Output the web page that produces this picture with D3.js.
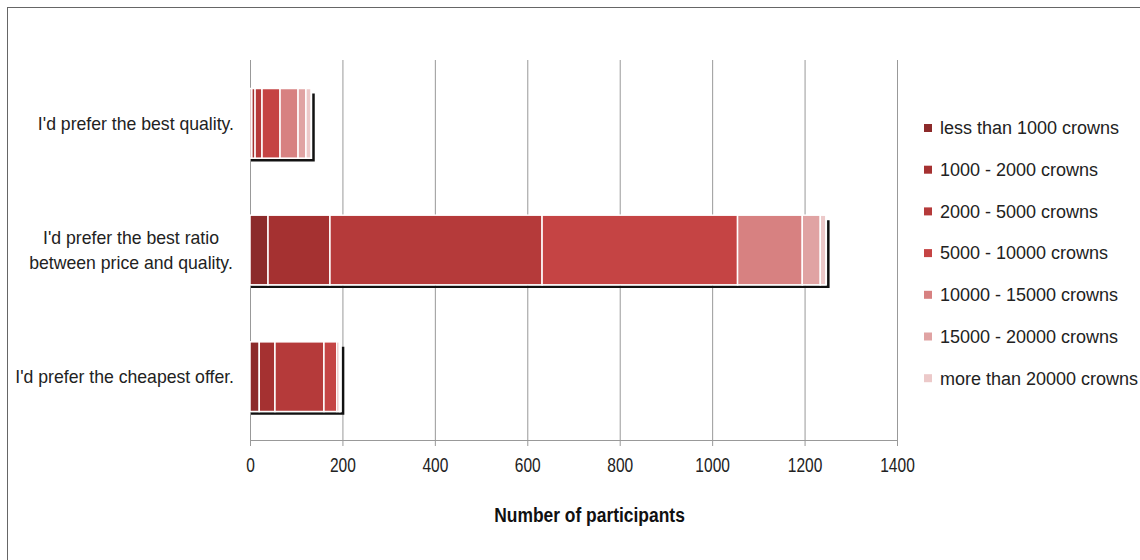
<!DOCTYPE html>
<html>
<head>
<meta charset="utf-8">
<script src="https://cdn.jsdelivr.net/npm/d3@7"></script>
<style>
  body { margin: 0; background: #fff; }
  svg { display: block; }
</style>
</head>
<body>
<div id="chart"></div>
<script>
// DATA
const answers = [
	"I'd prefer the best quality.",
	"I'd prefer the best ratio between price and quality.",
	"I'd prefer the cheapest offer."
];
const incomeGroups = [
	"less than 1000 crowns",
	"1000 - 2000 crowns",
	"2000 - 5000 crowns",
	"5000 - 10000 crowns",
	"10000 - 15000 crowns",
	"15000 - 20000 crowns",
	"more than 20000 crowns"
];
// participants per income group, one array per answer
const bestQuality = [4, 7, 15, 39, 39, 17, 11];
const bestRatio = [39, 134, 459, 423, 140, 39, 12];
const cheapest = [20, 34, 106, 28, 5, 2, 1];
const xTicks = [0, 200, 400, 600, 800, 1000, 1200, 1400];

const groupColors = ["#8c2a2a", "#a53131", "#b53a3a", "#c54444", "#d78181", "#e0a3a3", "#ecc9c9"];

//Dimension
const width = 1140,
	height = 560;
const plot = { left: 250, right: 897, top: 60, bottom: 440 };
const font = "'Liberation Sans', Arial, sans-serif";

const svg = d3.select("#chart").append("svg").attr("width", width).attr("height", height);

// outer frame
svg
	.append("rect")
	.attr("x", 7.5)
	.attr("y", 7.5)
	.attr("width", 1140)
	.attr("height", 600)
	.attr("fill", "none")
	.attr("stroke", "#666")
	.attr("stroke-width", 1);

//SCALES
const x = d3.scaleLinear().domain([0, 1400]).range([plot.left, plot.right]);
const y = d3
	.scaleBand()
	.domain(answers)
	.range([plot.top, plot.bottom])
	.paddingInner(0.45)
	.paddingOuter(0.225);
const color = d3.scaleOrdinal().domain(incomeGroups).range(groupColors);

//GRIDLINES + AXIS
const xAxis = svg
	.append("g")
	.attr("transform", `translate(0, ${plot.bottom})`)
	.call(
		d3
			.axisBottom(x)
			.tickValues(xTicks)
			.tickSize(6)
			.tickPadding(11)
			.tickFormat(d3.format("d"))
	);
xAxis.select(".domain").attr("stroke", "#999").attr("d", `M${plot.left},0.5H${plot.right}`);
xAxis.selectAll(".tick line").attr("stroke", "#999");
// condensed look of the original tick labels
xAxis
	.selectAll(".tick text")
	.attr("fill", "#222")
	.attr("transform", "scale(0.74, 1)")
	.style("font-family", font)
	.style("font-size", "21px");

svg
	.append("g")
	.selectAll("line")
	.data(xTicks)
	.enter()
	.append("line")
	.attr("x1", d => x(d) + 0.5)
	.attr("x2", d => x(d) + 0.5)
	.attr("y1", plot.top)
	.attr("y2", plot.bottom)
	.attr("stroke", "#999")
	.attr("stroke-width", 1);

// axis title
svg
	.append("text")
	.attr("transform", `translate(${(plot.left + plot.right) / 2 + 16}, 522) scale(0.85, 1)`)
	.attr("text-anchor", "middle")
	.style("font-family", font)
	.style("font-size", "20.5px")
	.style("font-weight", "bold")
	.style("fill", "#111")
	.text("Number of participants");

//STACK
const rows = [bestQuality, bestRatio, cheapest].map((vals, i) => {
	const row = { answer: answers[i] };
	incomeGroups.forEach((g, j) => (row[g] = vals[j]));
	return row;
});
const series = d3.stack().keys(incomeGroups)(rows);

// shadow lines (bottom + right edge)
svg
	.append("g")
	.selectAll("path")
	.data(rows)
	.enter()
	.append("path")
	.attr("d", d => {
		const end = x(d3.sum(incomeGroups, g => d[g]));
		const y0 = y(d.answer),
			y1 = y0 + y.bandwidth();
		return `M${x(0) + 1},${y1 + 2}H${end + 2.5}V${y0 + 5}`;
	})
	.attr("fill", "none")
	.attr("stroke", "#111")
	.attr("stroke-width", 2.5);

svg
	.append("g")
	.selectAll("g")
	.data(series)
	.enter()
	.append("g")
	.attr("fill", d => color(d.key))
	.selectAll("rect")
	.data(d => d)
	.enter()
	.append("rect")
	.attr("x", d => x(d[0]))
	.attr("y", d => y(d.data.answer))
	.attr("width", d => Math.max(0, x(d[1]) - x(d[0])))
	.attr("height", y.bandwidth())
	.attr("stroke", "#fff")
	.attr("stroke-width", 1.5);

//CATEGORY LABELS
const labelLines = {
	"I'd prefer the best quality.": ["I'd prefer the best quality."],
	"I'd prefer the best ratio between price and quality.": ["I'd prefer the best ratio", "between price and quality."],
	"I'd prefer the cheapest offer.": ["I'd prefer the cheapest offer."]
};
const catLabel = svg
	.append("g")
	.selectAll("text")
	.data(answers)
	.enter()
	.append("text")
	.style("font-family", font)
	.style("font-size", "18px")
	.style("fill", "#222")
	.attr("text-anchor", d => (labelLines[d].length > 1 ? "middle" : "end"))
	.attr("transform", d => {
		const cy = y(d) + y.bandwidth() / 2;
		return labelLines[d].length > 1
			? `translate(131, ${cy - 12}) scale(0.98, 1)`
			: `translate(234, ${cy}) scale(0.98, 1)`;
	});
catLabel
	.selectAll("tspan")
	.data(d => labelLines[d])
	.enter()
	.append("tspan")
	.attr("x", 0)
	.attr("dy", (d, i) => (i === 0 ? "0.35em" : "1.4em"))
	.text(d => d);

//LEGEND
const legend = svg.append("g").attr("transform", "translate(924, 128)");
const legendItem = legend
	.selectAll("g")
	.data(incomeGroups)
	.enter()
	.append("g")
	.attr("transform", (d, i) => `translate(0, ${i * 41.7})`);
legendItem
	.append("rect")
	.attr("x", 0)
	.attr("y", -4)
	.attr("width", 8)
	.attr("height", 8)
	.attr("fill", d => color(d));
legendItem
	.append("text")
	.attr("x", 16)
	.attr("dy", "0.35em")
	.style("font-family", font)
	.style("font-size", "18px")
	.style("fill", "#222")
	.text(d => d);
</script>
</body>
</html>
